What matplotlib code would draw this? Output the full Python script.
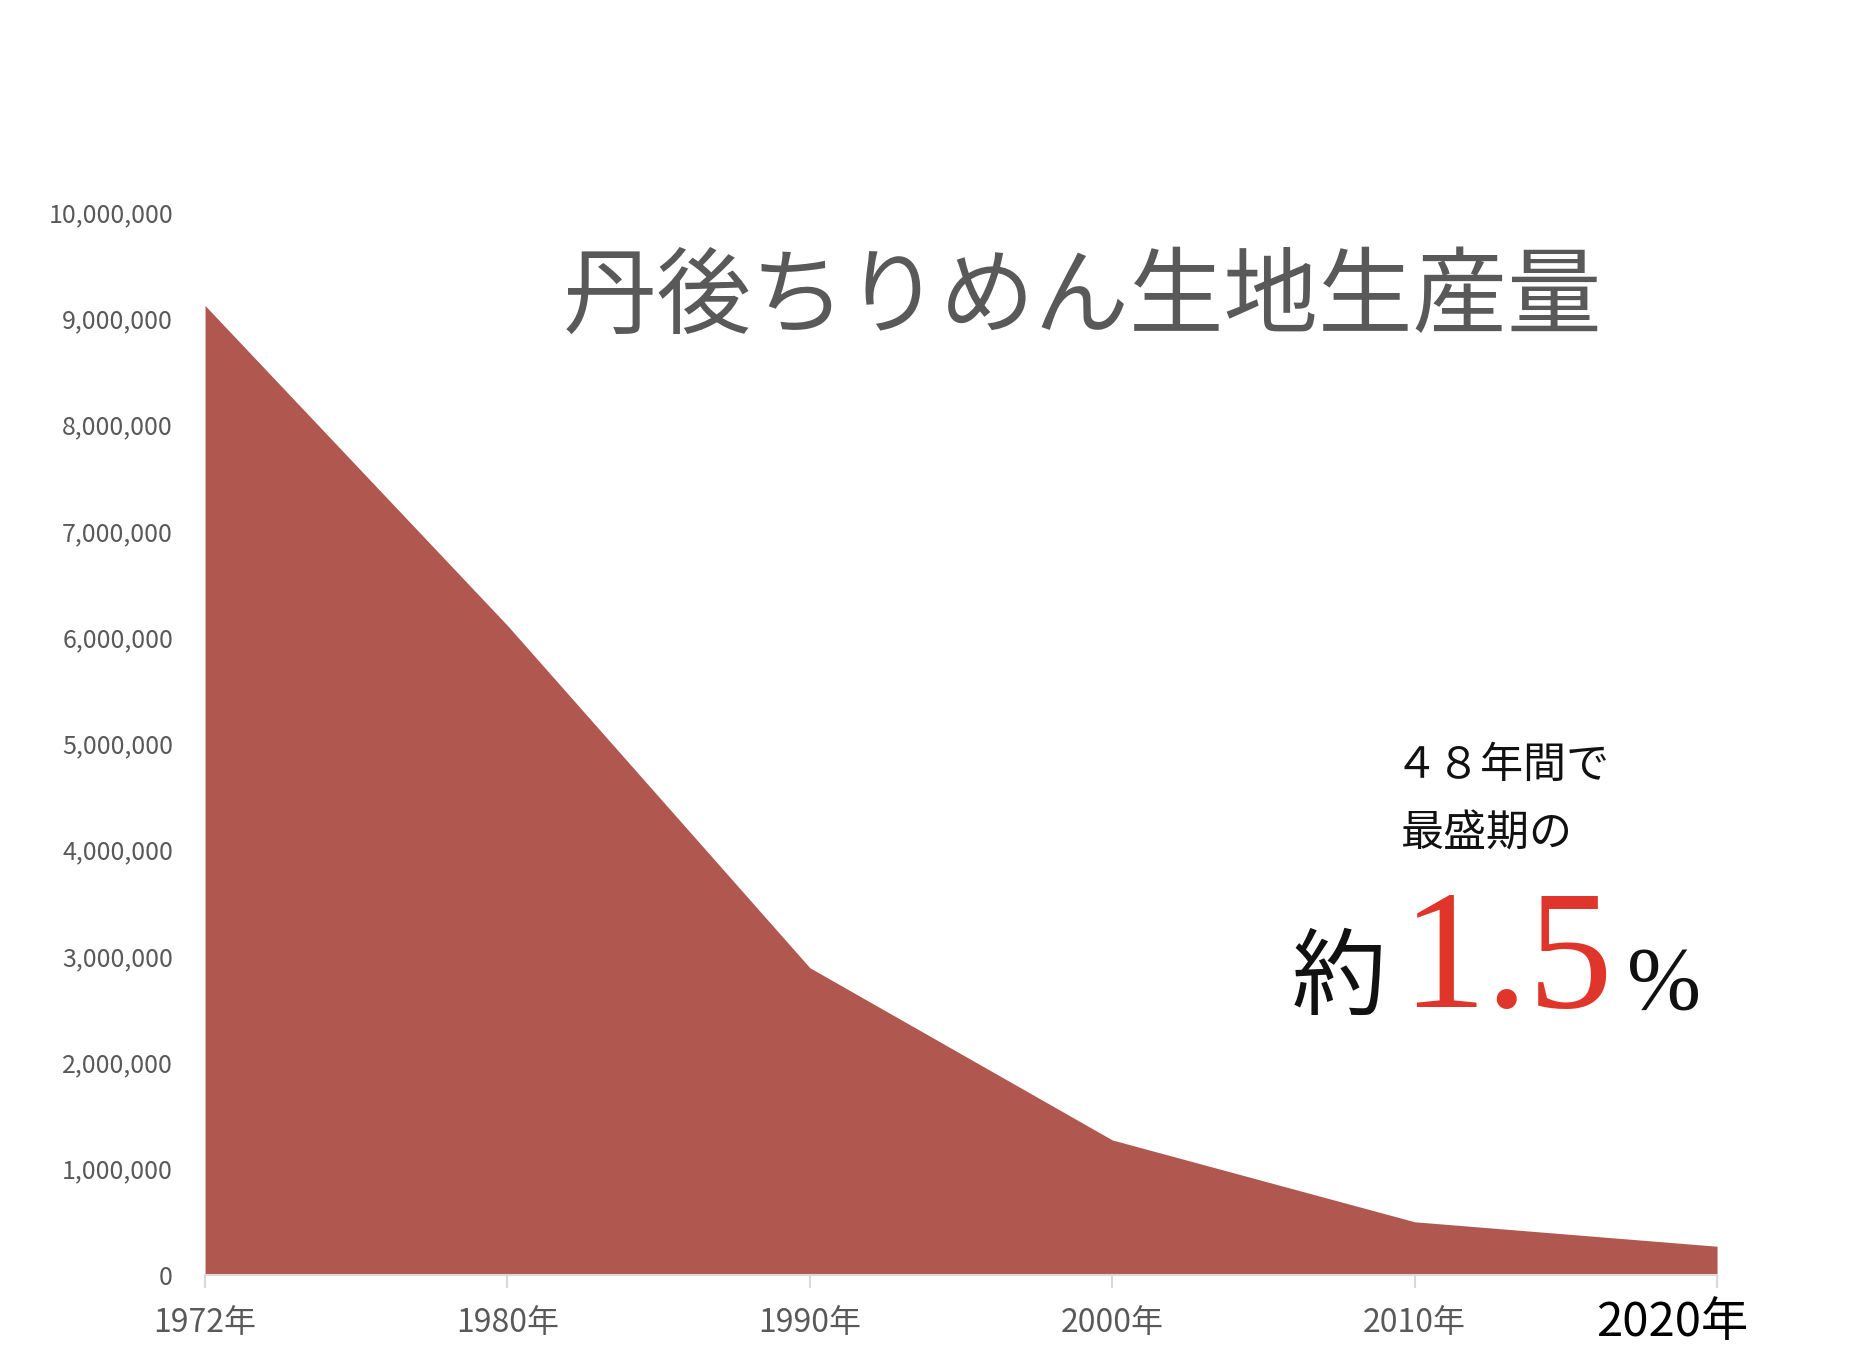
import numpy as np
import matplotlib.pyplot as plt
from matplotlib.ticker import FuncFormatter

plt.rcParams['font.family'] = ['Noto Sans CJK JP', 'DejaVu Sans']

# 丹後ちりめん 生地生産量 (反)
years = ['1972年', '1980年', '1990年', '2000年', '2010年', '2020年']
production = [9120000, 6110000, 2890000, 1270000, 500000, 270000]
y_ticks = [0, 1000000, 2000000, 3000000, 4000000, 5000000,
           6000000, 7000000, 8000000, 9000000, 10000000]

fill_color = '#B05850'
label_gray = '#595959'

fig = plt.figure(figsize=(18.69, 13.5), dpi=100)
ax = fig.add_axes([0.1097, 0.0556, 0.809, 0.7874])

x = np.arange(len(years))
ax.fill_between(x, production, 0, color=fill_color, linewidth=0)

ax.set_xlim(0, len(years) - 1)
ax.set_ylim(0, 10000000)
ax.set_yticks(y_ticks)
ax.yaxis.set_major_formatter(FuncFormatter(lambda v, p: f'{int(v):,}'))
ax.set_xticks(x)
# 2020年 は別に大きく書く
ax.set_xticklabels(years[:-1] + [''])

for side in ['top', 'right', 'left']:
    ax.spines[side].set_visible(False)
ax.spines['bottom'].set_color('#d9d9d9')
ax.spines['bottom'].set_linewidth(1.5)

ax.tick_params(axis='y', length=0, pad=23, labelsize=18, labelcolor=label_gray)
ax.tick_params(axis='x', length=9, width=1.5, color='#d9d9d9', pad=14,
               labelsize=23, labelcolor=label_gray)

fig.text(0.8945, 0.02, years[-1], fontsize=34, color='black',
         ha='center', va='center')

# タイトル
fig.text(0.579, 0.779, '丹後ちりめん生地生産量', fontsize=68, color=label_gray,
         ha='center', va='center')

# 注記
fig.text(0.746, 0.4326, '４８年間で', fontsize=31, color='#111111',
         ha='left', va='center')
fig.text(0.7495, 0.3815, '最盛期の', fontsize=31, color='#111111',
         ha='left', va='center')
fig.text(0.691, 0.254, '約', fontsize=68, color='#111111',
         ha='left', va='baseline')
fig.text(0.7495, 0.254, '1.5', fontsize=122, color='#E0352A',
         family=['Liberation Serif', 'DejaVu Serif'], ha='left', va='baseline')
fig.text(0.8705, 0.254, '%', fontsize=64, color='#111111',
         family=['Liberation Serif', 'DejaVu Serif'], ha='left', va='baseline')

plt.savefig('out.png', dpi=100)
